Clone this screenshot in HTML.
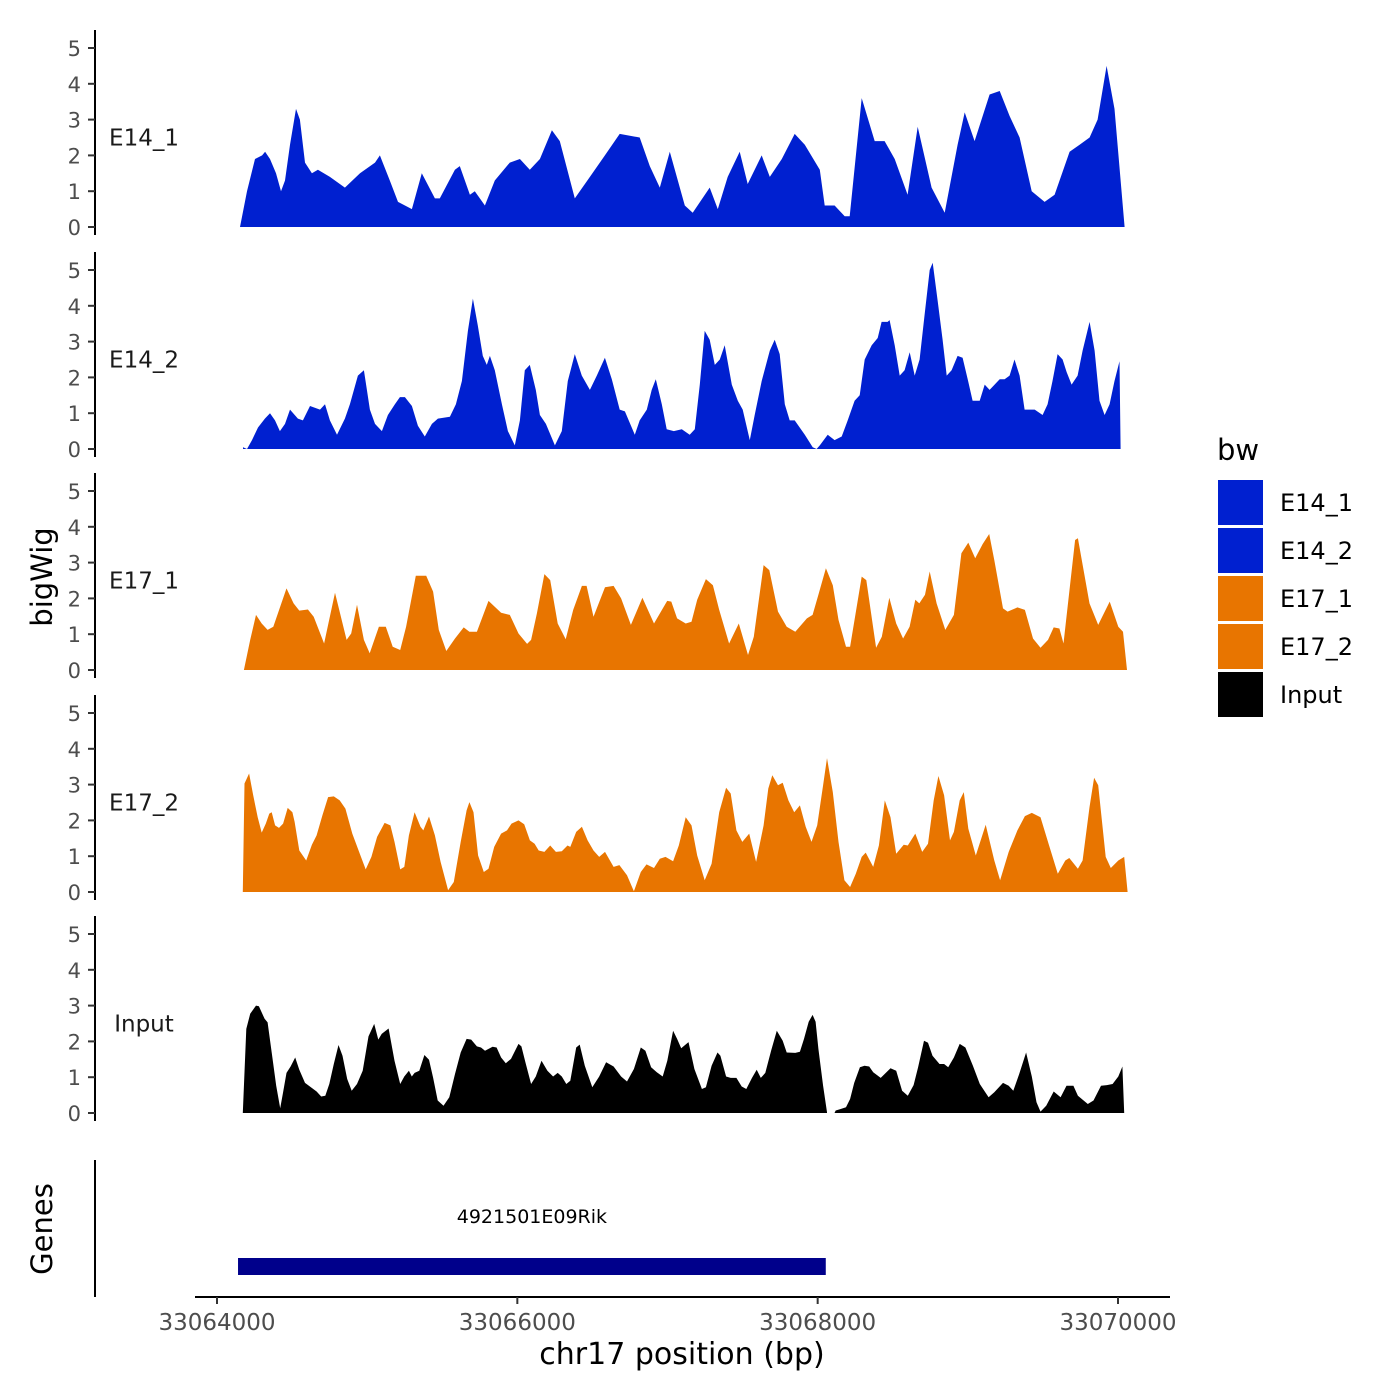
<!DOCTYPE html>
<html><head><meta charset="utf-8"><style>
html,body{margin:0;padding:0;background:#fff}
svg{display:block}
text{font-family:"DejaVu Sans","Liberation Sans",sans-serif}
</style></head><body>
<svg id="chart" width="1400" height="1400" viewBox="0 0 1400 1400" xmlns="http://www.w3.org/2000/svg">
<g id="tracks"></g>
<g id="axes"></g>
<text x="0" y="0" transform="translate(52,577) rotate(-90)" text-anchor="middle" font-size="29" fill="#000">bigWig</text>
<text x="0" y="0" transform="translate(52,1229) rotate(-90)" text-anchor="middle" font-size="29" fill="#000">Genes</text>
<text x="682" y="1364" text-anchor="middle" font-size="30" fill="#000">chr17 position (bp)</text>
<g>
<text x="1217" y="460" font-size="29" fill="#000">bw</text>
<rect x="1218" y="480" width="45" height="45" fill="#0020D0"/>
<rect x="1218" y="528" width="45" height="45" fill="#0020D0"/>
<rect x="1218" y="576" width="45" height="45" fill="#E87500"/>
<rect x="1218" y="624" width="45" height="45" fill="#E87500"/>
<rect x="1218" y="672" width="45" height="45" fill="#000"/>
<text x="1280" y="511" font-size="24" fill="#000">E14_1</text>
<text x="1280" y="559" font-size="24" fill="#000">E14_2</text>
<text x="1280" y="607" font-size="24" fill="#000">E17_1</text>
<text x="1280" y="655" font-size="24" fill="#000">E17_2</text>
<text x="1280" y="703" font-size="24" fill="#000">Input</text>
</g>
</svg>
<script>
// genomic positions as offset (bp) from 33064000; signal values
const trackNames = ["E14_1","E14_2","E17_1","E17_2","Input"];
const trackColors = ["#0020D0","#0020D0","#E87500","#E87500","#000000"];
const yTicks = [0,1,2,3,4,5];
const xTicks = [33064000,33066000,33068000,33070000];
const geneName = ["4921501E09Rik"];
const geneStart = [33064140];
const geneEnd = [33068054];

const e14_1_pos = [153,200,253,300,320,353,393,426,453,486,526,552,586,632,672,752,852,952,1052,1085,1151,1205,1298,1364,1451,1484,1584,1617,1684,1717,1784,1850,1950,2017,2083,2150,2230,2283,2383,2483,2583,2682,2815,2882,2949,3015,3115,3168,3281,3335,3401,3481,3534,3627,3681,3761,3847,3914,4014,4047,4113,4180,4213,4293,4380,4446,4513,4599,4666,4759,4846,4932,4979,5045,5145,5212,5278,5345,5425,5511,5578,5678,5744,5811,5864,5924,5977,6044];
const e14_1_val = [0,1.0,1.9,2.0,2.1,1.9,1.5,1.0,1.3,2.3,3.3,3.0,1.8,1.5,1.6,1.4,1.1,1.5,1.8,2.0,1.3,0.7,0.5,1.5,0.8,0.8,1.6,1.7,0.9,1.0,0.6,1.3,1.8,1.9,1.6,1.9,2.7,2.4,0.8,1.4,2.0,2.6,2.5,1.7,1.1,2.1,0.6,0.4,1.1,0.5,1.4,2.1,1.2,2.0,1.4,1.9,2.6,2.3,1.6,0.6,0.6,0.3,0.3,3.6,2.4,2.4,1.9,0.9,2.8,1.1,0.4,2.3,3.2,2.4,3.7,3.8,3.1,2.5,1.0,0.7,0.9,2.1,2.3,2.5,3.0,4.5,3.3,0];

const e14_2_pos = [173,200,233,273,319,353,386,419,453,486,539,572,619,686,719,752,799,852,885,938,978,1018,1052,1098,1138,1185,1218,1251,1298,1338,1384,1431,1471,1551,1591,1631,1671,1704,1737,1770,1797,1817,1850,1897,1937,1983,2017,2050,2083,2123,2150,2190,2250,2296,2336,2383,2429,2483,2529,2583,2629,2682,2716,2782,2815,2862,2895,2922,2962,2995,3042,3095,3148,3182,3215,3248,3281,3315,3348,3381,3428,3468,3501,3548,3581,3627,3681,3714,3747,3781,3814,3847,3914,3967,3993,4014,4067,4113,4160,4200,4246,4280,4313,4360,4400,4426,4466,4479,4513,4546,4579,4613,4646,4679,4712,4746,4766,4799,4832,4859,4892,4932,4965,4999,5032,5079,5112,5145,5178,5212,5245,5278,5311,5345,5378,5445,5498,5531,5564,5598,5631,5658,5691,5731,5764,5811,5844,5877,5911,5944,5977,6010,6017];
const e14_2_val = [0.05,0,0.25,0.6,0.85,1.0,0.8,0.5,0.7,1.1,0.85,0.8,1.2,1.1,1.25,0.8,0.4,0.85,1.25,2.05,2.2,1.1,0.7,0.5,0.95,1.25,1.45,1.45,1.2,0.65,0.35,0.7,0.85,0.9,1.25,1.9,3.3,4.2,3.45,2.6,2.35,2.6,2.2,1.25,0.5,0.1,0.8,2.2,2.35,1.65,0.95,0.7,0.1,0.5,1.9,2.65,2.05,1.65,2.05,2.55,1.95,1.1,1.05,0.4,0.8,1.1,1.65,1.95,1.25,0.55,0.5,0.55,0.4,0.55,1.8,3.3,3.05,2.35,2.5,2.9,1.8,1.35,1.1,0.25,0.95,1.9,2.75,3.05,2.65,1.25,0.8,0.8,0.4,0.05,0,0.1,0.4,0.25,0.35,0.8,1.35,1.5,2.5,2.9,3.1,3.55,3.55,3.6,2.9,2.05,2.2,2.7,2.05,2.5,3.75,5.0,5.2,4.15,3.05,2.05,2.2,2.6,2.55,1.95,1.35,1.35,1.8,1.65,1.8,1.95,1.95,2.05,2.5,2.05,1.1,1.1,0.95,1.25,1.9,2.65,2.5,2.15,1.8,2.05,2.75,3.55,2.75,1.35,0.95,1.25,1.9,2.45,0];

const e17_1_pos = [179,221,260,298,337,375,463,510,548,605,644,713,786,863,894,932,978,1017,1078,1124,1170,1220,1259,1324,1393,1439,1477,1527,1585,1643,1681,1731,1808,1892,1950,2008,2065,2092,2130,2180,2219,2269,2322,2372,2430,2461,2507,2584,2641,2691,2756,2833,2910,2998,3025,3064,3121,3160,3198,3256,3302,3344,3410,3475,3536,3575,3640,3678,3736,3794,3851,3928,3966,4005,4055,4101,4139,4189,4216,4293,4324,4389,4427,4477,4523,4569,4612,4650,4677,4715,4746,4792,4850,4907,4957,5003,5049,5099,5142,5176,5234,5265,5330,5380,5434,5484,5534,5572,5610,5637,5714,5733,5810,5868,5945,6002,6033,6060];
const e17_1_val = [0,0.84,1.54,1.30,1.12,1.21,2.28,1.86,1.66,1.69,1.49,0.74,2.16,0.84,1.02,1.82,0.84,0.47,1.21,1.21,0.65,0.56,1.21,2.63,2.63,2.19,1.12,0.53,0.88,1.19,1.07,1.07,1.93,1.60,1.54,1.02,0.73,0.84,1.58,2.68,2.51,1.30,0.86,1.68,2.35,2.35,1.49,2.31,2.35,2.00,1.26,2.02,1.30,1.93,1.91,1.44,1.30,1.35,1.96,2.54,2.37,1.68,0.74,1.30,0.42,0.93,2.93,2.79,1.63,1.21,1.07,1.44,1.54,2.10,2.84,2.37,1.40,0.65,0.65,2.61,2.51,0.62,0.93,2.02,1.30,0.88,1.21,1.96,1.86,2.10,2.75,1.86,1.12,1.54,3.26,3.56,3.12,3.52,3.80,3.07,1.72,1.63,1.75,1.68,0.88,0.62,0.84,1.19,1.16,0.74,3.63,3.68,1.86,1.26,1.91,1.21,1.07,0];

const e17_2_pos = [172,183,214,241,271,298,325,348,364,387,413,440,471,502,517,548,594,632,663,702,740,778,817,855,901,951,990,1028,1066,1116,1155,1182,1220,1247,1278,1316,1355,1374,1412,1451,1489,1539,1577,1623,1662,1681,1708,1739,1777,1808,1846,1892,1931,1961,2008,2046,2084,2115,2142,2180,2219,2257,2296,2334,2353,2392,2430,2468,2507,2545,2584,2641,2680,2730,2776,2822,2860,2910,2949,2987,3037,3075,3121,3160,3198,3248,3294,3344,3390,3421,3459,3498,3544,3590,3640,3671,3698,3736,3767,3805,3844,3882,3920,3959,3997,4036,4062,4101,4139,4178,4216,4254,4293,4320,4370,4408,4447,4485,4523,4573,4600,4650,4696,4735,4773,4804,4842,4881,4907,4946,4973,5003,5053,5119,5176,5215,5272,5330,5380,5426,5484,5541,5599,5649,5676,5733,5764,5810,5841,5868,5918,5952,6002,6041,6064];
const e17_2_val = [0,3.03,3.31,2.70,2.09,1.66,1.91,2.19,2.23,1.86,1.79,1.91,2.35,2.23,1.96,1.16,0.88,1.32,1.58,2.14,2.65,2.67,2.56,2.33,1.63,1.07,0.63,0.98,1.54,1.93,1.86,1.40,0.63,0.70,1.58,2.23,1.82,1.72,2.11,1.58,0.84,0.05,0.28,1.40,2.28,2.51,2.23,1.02,0.56,0.65,1.26,1.63,1.72,1.91,2.00,1.89,1.44,1.35,1.16,1.12,1.30,1.12,1.14,1.30,1.26,1.68,1.82,1.44,1.16,0.98,1.12,0.70,0.75,0.47,0.02,0.56,0.77,0.67,0.93,0.98,0.86,1.30,2.09,1.86,1.02,0.33,0.79,2.23,2.91,2.75,1.72,1.40,1.63,0.84,1.86,2.89,3.26,2.98,3.05,2.56,2.23,2.42,1.82,1.40,1.86,2.98,3.74,2.79,1.40,0.33,0.14,0.51,0.98,1.10,0.70,1.30,2.56,2.09,1.07,1.32,1.30,1.63,1.12,1.35,2.56,3.24,2.70,1.44,1.68,2.56,2.79,1.77,1.02,1.88,0.88,0.33,1.12,1.72,2.12,2.21,2.09,1.30,0.51,0.88,0.95,0.65,0.88,2.37,3.19,2.98,0.98,0.67,0.88,0.98,0];

// null value = gap in coverage
const input_pos = [172,195,221,260,279,317,337,364,394,421,440,463,490,521,548,586,625,663,694,721,748,778,809,836,867,897,932,970,1009,1047,1074,1097,1143,1182,1220,1247,1278,1297,1316,1347,1381,1412,1439,1470,1508,1547,1585,1623,1662,1693,1731,1758,1785,1835,1862,1892,1923,1958,2008,2027,2054,2092,2123,2161,2200,2238,2269,2296,2326,2353,2392,2415,2449,2499,2545,2591,2641,2691,2730,2776,2822,2853,2891,2929,2968,2999,3037,3064,3091,3140,3179,3229,3256,3294,3333,3352,3390,3421,3459,3494,3525,3563,3594,3621,3651,3690,3728,3767,3794,3851,3882,3909,3940,3966,3986,4005,4036,4062,4090,4112,4120,4151,4189,4216,4243,4281,4312,4343,4370,4420,4454,4485,4523,4562,4600,4639,4669,4708,4735,4765,4811,4842,4869,4907,4946,4984,5034,5080,5138,5176,5234,5272,5303,5342,5388,5426,5457,5484,5522,5572,5618,5657,5703,5733,5799,5837,5887,5926,5964,6002,6029,6041];
const input_val = [0,2.35,2.77,3.0,2.98,2.63,2.53,1.69,0.76,0.13,0.58,1.12,1.30,1.55,1.21,0.84,0.72,0.60,0.46,0.48,0.81,1.37,1.90,1.60,0.95,0.62,0.81,1.18,2.14,2.49,2.05,2.21,2.36,1.46,0.81,1.02,1.18,1.02,1.12,1.18,1.62,1.49,0.99,0.35,0.20,0.44,1.09,1.69,2.07,2.05,1.86,1.83,1.74,1.85,1.83,1.55,1.39,1.51,1.93,1.86,1.42,0.81,1.02,1.46,1.18,1.02,1.12,1.02,0.81,0.90,1.83,1.91,1.32,0.72,1.02,1.42,1.30,1.02,0.88,1.23,1.83,1.74,1.28,1.14,1.02,1.46,2.30,2.07,1.81,1.98,1.23,0.67,0.72,1.32,1.69,1.60,1.02,0.98,0.98,0.74,0.67,0.98,1.21,0.98,1.12,1.74,2.30,2.02,1.69,1.68,1.71,2.07,2.55,2.74,2.55,1.79,0.76,0.02,null,0,0.07,0.11,0.16,0.39,0.84,1.28,1.32,1.30,1.14,0.98,1.12,1.25,1.18,0.62,0.48,0.78,1.28,2.02,1.96,1.60,1.37,1.37,1.28,1.55,1.93,1.83,1.32,0.81,0.44,0.58,0.84,0.76,0.62,1.09,1.69,1.02,0.30,0.04,0.20,0.60,0.44,0.76,0.76,0.48,0.25,0.35,0.76,0.78,0.81,1.02,1.30,0];

const trackPos = [e14_1_pos,e14_2_pos,e17_1_pos,e17_2_pos,input_pos];
const trackVal = [e14_1_val,e14_2_val,e17_1_val,e17_2_val,input_val];

const NS = "http://www.w3.org/2000/svg";
const X0 = 33064000;
function xScale(bp){ return 217 + (bp - X0) * (1118 - 217) / 6000; }
function xOff(off){ return xScale(X0 + off); }
const panelZero = [227,449,670,892,1113];
const unit = 35.8;
function yScale(p, v){ return panelZero[p] - v * unit; }
function mk(tag, attrs){ const e=document.createElementNS(NS,tag); for(const k in attrs) e.setAttribute(k, attrs[k]); return e; }

const tracks = document.getElementById('tracks');
const axes = document.getElementById('axes');

for (let p=0; p<trackNames.length; p++){
  const pos = trackPos[p], val = trackVal[p];
  let segs=[], cur=[];
  for (let i=0;i<pos.length;i++){
    if (val[i]===null){ if(cur.length) segs.push(cur); cur=[]; continue; }
    cur.push([pos[i], val[i]]);
  }
  if (cur.length) segs.push(cur);
  segs.forEach(function(s){
    let d = "M"+xOff(s[0][0]).toFixed(1)+","+yScale(p,0);
    s.forEach(function(pt){ d += " L"+xOff(pt[0]).toFixed(1)+","+yScale(p,pt[1]).toFixed(1); });
    d += " L"+xOff(s[s.length-1][0]).toFixed(1)+","+yScale(p,0)+" Z";
    const path = mk('path',{d:d, fill:trackColors[p]});
    
    
    tracks.appendChild(path);
  });
  const line = mk('line',{x1:95,x2:95,y1:yScale(p,5)-18,y2:yScale(p,0)+8,stroke:'#000','stroke-width':2});
  
  
  axes.appendChild(line);
  yTicks.forEach(function(t){
    const y = yScale(p,t);
    const tk = mk('line',{x1:88,x2:95,y1:y,y2:y,stroke:'#333','stroke-width':2});
    
    
    axes.appendChild(tk);
    const lb = mk('text',{x:81,y:y+8,'text-anchor':'end','font-size':21,fill:'#4d4d4d'});
    lb.textContent = t;
    
    
    axes.appendChild(lb);
  });
  const nm = mk('text',{x:144,y:yScale(p,2.5)+8,'text-anchor':'middle','font-size':23,fill:'#1a1a1a'});
  nm.textContent = trackNames[p];
  
  
  axes.appendChild(nm);
}

const gl = mk('line',{x1:95,x2:95,y1:1160,y2:1297,stroke:'#000','stroke-width':2});


axes.appendChild(gl);
for (let g=0; g<geneName.length; g++){
  const x1 = xScale(geneStart[g]), x2 = xScale(geneEnd[g]);
  const r = mk('rect',{x:x1,y:1258,width:x2-x1,height:17,fill:'#00008B'});
  
  
  axes.appendChild(r);
  const t = mk('text',{x:(x1+x2)/2,y:1223,'text-anchor':'middle','font-size':19,fill:'#000'});
  t.textContent = geneName[g];
  
  
  axes.appendChild(t);
}
const xl = mk('line',{x1:195,x2:1170,y1:1297,y2:1297,stroke:'#000','stroke-width':2});


axes.appendChild(xl);
xTicks.forEach(function(t){
  const x = xScale(t);
  const tk = mk('line',{x1:x,x2:x,y1:1297,y2:1304,stroke:'#333','stroke-width':2});
  
  
  axes.appendChild(tk);
  const lb = mk('text',{x:x,y:1330,'text-anchor':'middle','font-size':23,fill:'#4d4d4d'});
  lb.textContent = t;
  
  
  axes.appendChild(lb);
});
</script>
</body></html>
